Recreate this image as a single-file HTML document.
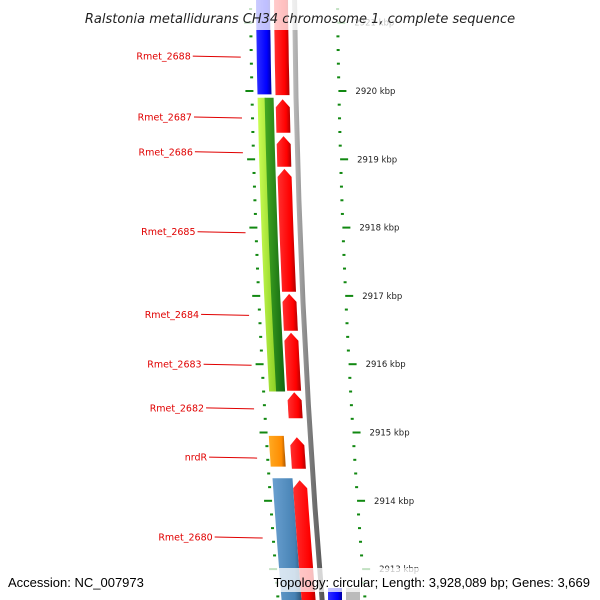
<!DOCTYPE html>
<html><head><meta charset="utf-8"><style>
html,body{margin:0;padding:0;background:#fff;}
svg{display:block;font-family:"DejaVu Sans","Liberation Sans",sans-serif;}
</style></head><body>
<svg id="map" width="600" height="600" viewBox="0 0 600 600">
<defs>
<linearGradient id="gRed" x1="0" x2="1"><stop offset="0" stop-color="#ff3030"/><stop offset="0.7" stop-color="#ff0000"/><stop offset="1" stop-color="#b00000"/></linearGradient>
<linearGradient id="gBlue" x1="0" x2="1"><stop offset="0" stop-color="#3030ff"/><stop offset="0.7" stop-color="#0000ff"/><stop offset="1" stop-color="#0000a0"/></linearGradient>
<linearGradient id="gLGreen" x1="0" x2="1"><stop offset="0" stop-color="#ccff55"/><stop offset="1" stop-color="#88cc22"/></linearGradient>
<linearGradient id="gDGreen" x1="0" x2="1"><stop offset="0" stop-color="#44aa22"/><stop offset="1" stop-color="#116611"/></linearGradient>
<linearGradient id="gOrange" x1="0" x2="1"><stop offset="0" stop-color="#ffaa22"/><stop offset="0.75" stop-color="#ff8c00"/><stop offset="1" stop-color="#aa5500"/></linearGradient>
<linearGradient id="gSteel" x1="0" x2="1"><stop offset="0" stop-color="#6aa0d0"/><stop offset="0.75" stop-color="#4682b4"/><stop offset="1" stop-color="#2a5070"/></linearGradient>
<linearGradient id="gGrey" x1="0" x2="1"><stop offset="0" stop-color="#c0c0c0"/><stop offset="0.5" stop-color="#808080"/><stop offset="1" stop-color="#505050"/></linearGradient>
</defs>
<g id="tracks"></g>
<g id="ticks"></g>
<g id="labels"></g>
<rect x="0" y="0" width="600" height="30" fill="#fff" fill-opacity="0.75"/>
<text x="300" y="23" text-anchor="middle" font-size="13" font-style="italic" fill="#222">Ralstonia metallidurans CH34 chromosome 1, complete sequence</text>
<rect x="0" y="568" width="600" height="24" fill="#fff" fill-opacity="0.75"/>
<text x="8" y="587" font-size="13" fill="#000" style="font-family:'Liberation Sans',sans-serif">Accession: NC_007973</text>
<text x="590" y="587" text-anchor="end" font-size="13" fill="#000" style="font-family:'Liberation Sans',sans-serif">Topology: circular; Length: 3,928,089 bp; Genes: 3,669</text>
</svg>
<script>
// data (kbp)
const fwdStarts = [2921.40, 2919.88, 2919.34, 2918.86, 2917.03, 2916.46, 2915.59, 2914.93, 2914.30];
const fwdEnds   = [2919.94, 2919.39, 2918.89, 2917.06, 2916.49, 2915.61, 2915.21, 2914.47, 2912.40];
const innerStarts = [2921.40, 2919.90, 2919.90, 2914.95, 2914.33];
const innerEnds   = [2919.95, 2915.60, 2915.60, 2914.50, 2912.40];
const innerFills  = ["gBlue", "gLGreen", "gDGreen", "gOrange", "gSteel"];
const innerX0 = [256, 256, 263, 253, 254];
const innerX1 = [270, 264, 272, 268, 274];
const majorTicks = [2921, 2920, 2919, 2918, 2917, 2916, 2915, 2914, 2913];
const labelNames = ["Rmet_2688","Rmet_2687","Rmet_2686","Rmet_2685","Rmet_2684","Rmet_2683","Rmet_2682","nrdR","Rmet_2680"];
const labelKbp = [2920.51, 2919.62, 2919.11, 2917.94, 2916.73, 2916.00, 2915.36, 2914.64, 2913.47];

const NS = "http://www.w3.org/2000/svg";
function yOf(k){ return 91 + (2920 - k) * 68.3; }
function off(y){ return 0.01 * y + 0.00006 * y * y; }
function mk(tag, attrs, parent){ const e = document.createElementNS(NS, tag); for (const a in attrs) e.setAttribute(a, attrs[a]); parent.appendChild(e); return e; }
const tracks = document.getElementById('tracks');
const ticks = document.getElementById('ticks');
const labels = document.getElementById('labels');

function band(x0, x1, ya, yb, arrow){
  const pts = [];
  const n = 6;
  const top = arrow ? ya + 8 : ya;
  if (arrow){
    const xm = (x0 + x1) / 2 + off(ya);
    pts.push([x0 + off(top), top]);
    pts.push([xm, ya]);
    pts.push([x1 + off(top), top]);
  } else {
    pts.push([x0 + off(top), top]); pts.push([x1 + off(top), top]);
  }
  for (let i = 1; i <= n; i++){ const y = top + (yb - top) * i / n; pts.push([x1 + off(y), y]); }
  for (let i = n; i >= 0; i--){ const y = top + (yb - top) * i / n; pts.push([x0 + off(y), y]); }
  return pts.map(p => p[0].toFixed(1) + "," + p[1].toFixed(1)).join(" ");
}

const gl = mk('polygon', {points: band(292, 297, -5, 610, false), fill: 'url(#gGrey)'}, tracks);



for (let i = 0; i < innerStarts.length; i++){
  const ya = yOf(innerStarts[i]), yb = yOf(innerEnds[i]);
  const p = mk('polygon', {points: band(innerX0[i], innerX1[i], ya, yb, false), fill: 'url(#' + innerFills[i] + ')'}, tracks);
  
  
}
for (let i = 0; i < fwdStarts.length; i++){
  const ya = yOf(fwdStarts[i]), yb = yOf(fwdEnds[i]);
  const p = mk('polygon', {points: band(274, 288, ya, yb, i > 0), fill: 'url(#gRed)'}, tracks);
  
  
}
const b1 = mk('rect', {x: 328, y: 588, width: 14, height: 12, fill: 'url(#gBlue)'}, tracks);


const b2 = mk('rect', {x: 346, y: 588, width: 14, height: 12, fill: '#bbbbbb'}, tracks);



for (let k = 2921.4; k >= 2912.4; k -= 0.2){
  const kk = Math.round(k * 10) / 10;
  const y = yOf(kk);
  const major = Math.abs(kk - Math.round(kk)) < 0.01;
  const o = off(y);
  const t1 = mk('rect', {x: (major ? 244 : 249) + o, y: y - 1, width: major ? 8 : 3, height: 2, fill: '#118811'}, ticks);
  
  
  const t2 = mk('rect', {x: (major ? 337 : 336) + o, y: y - 1, width: major ? 8 : 3, height: 2, fill: '#118811'}, ticks);
  
  
}
for (let i = 0; i < majorTicks.length; i++){
  const y = yOf(majorTicks[i]);
  const t = mk('text', {x: 354 + off(y), y: y + 3, 'font-size': 8.5, fill: '#222'}, ticks);
  t.textContent = majorTicks[i] + ' kbp';
  
  
}
for (let i = 0; i < labelNames.length; i++){
  const y = yOf(labelKbp[i]);
  const o = off(y);
  const l = mk('line', {x1: 192 + o, y1: y, x2: 240 + o, y2: y + 1, stroke: '#e00000', 'stroke-width': 1}, labels);
  
  
  const t = mk('text', {x: 190 + o, y: y + 3.5, 'font-size': 9.5, fill: '#e00000', 'text-anchor': 'end'}, labels);
  t.textContent = labelNames[i];
  
  
}
</script>
</body></html>
